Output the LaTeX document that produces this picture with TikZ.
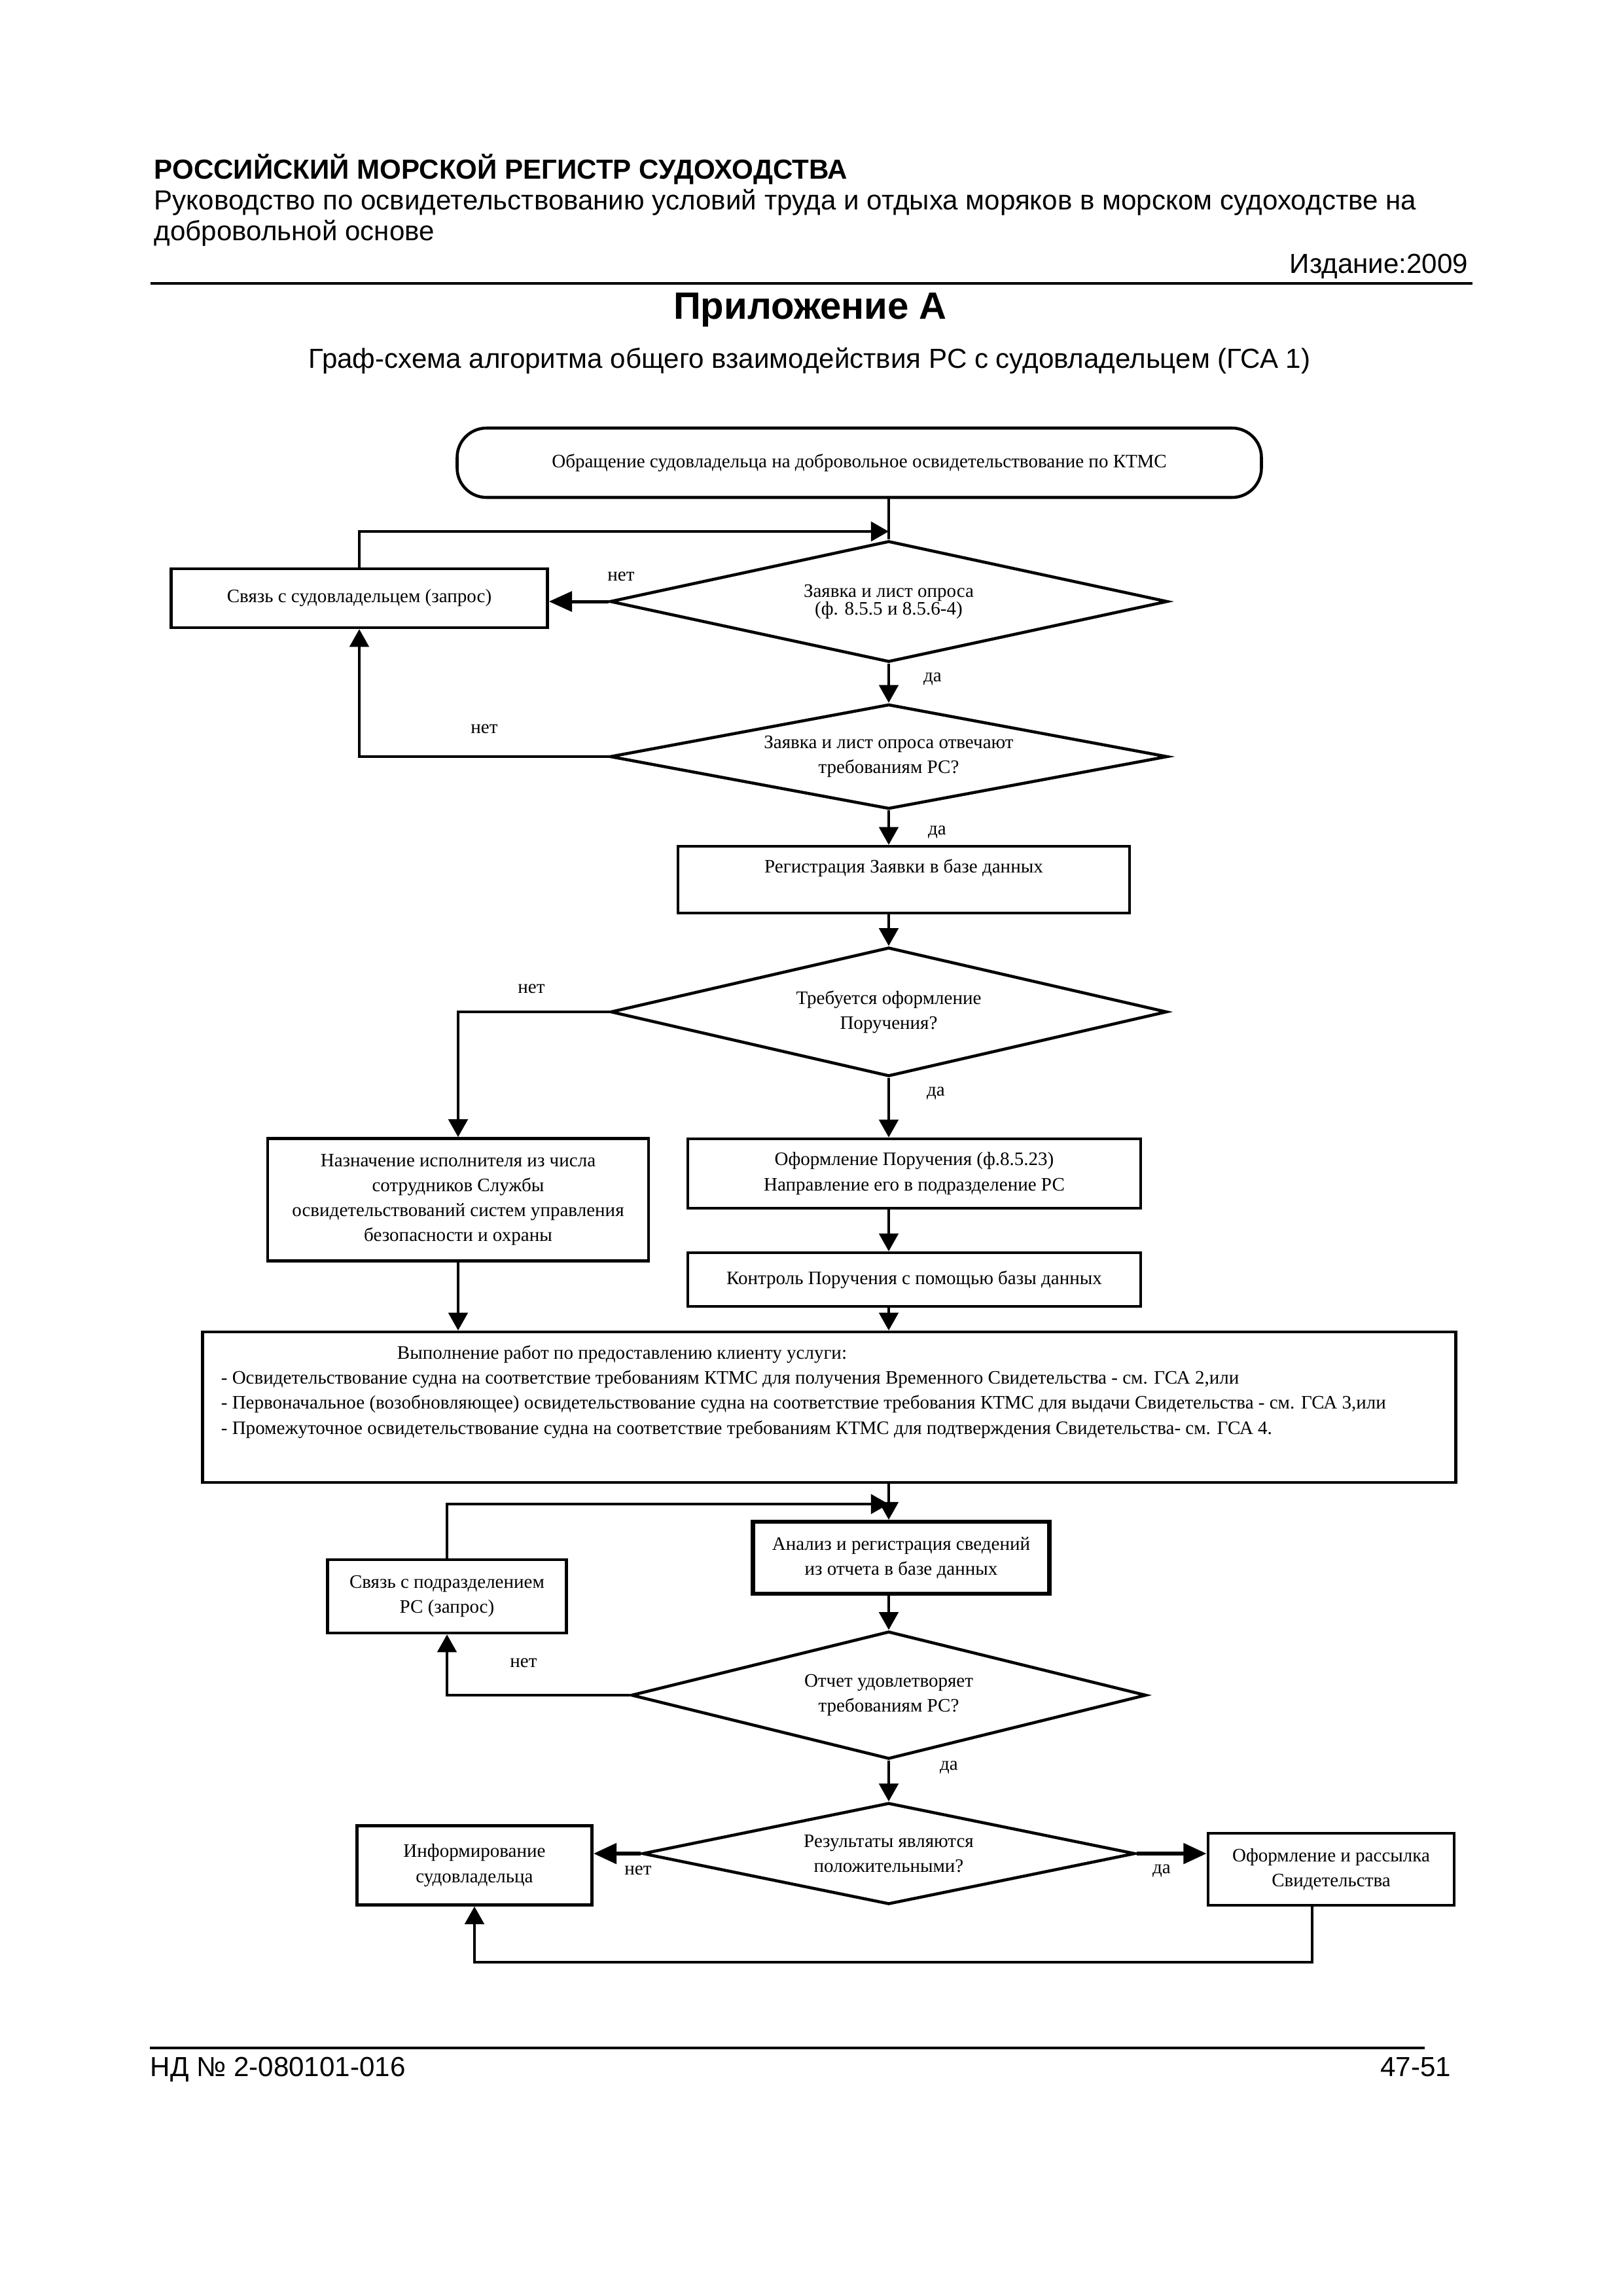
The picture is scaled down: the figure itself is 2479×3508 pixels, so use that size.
\documentclass[tikz,border=0pt]{standalone}
\usepackage{fontspec}
\setmainfont{Liberation Serif}
\newfontfamily\headfont{Liberation Sans}
\usepackage{tikz}
\usetikzlibrary{shapes.geometric,arrows.meta,calc}

\newcommand{\pxl}{0.084711mm}
\newcommand{\boxfont}{\fontsize{7}{9.2}\selectfont}

\begin{document}
\begin{tikzpicture}[x=0.084711mm, y=-0.084711mm,
    >={Triangle[length=2.3mm, width=2.5mm]},
    blok/.style 2 args={draw, rectangle, line width=1.1pt, font=\boxfont, align=center,
      inner sep=0pt, minimum width=#1*\pxl, minimum height=#2*\pxl},
    romb/.style 2 args={draw, diamond, aspect=5, line width=1.1pt, font=\boxfont, align=center,
      inner sep=0pt, minimum width=#1*\pxl, minimum height=#2*\pxl},
    arr/.style={->, line width=0.9pt},
    fatarr/.style={-{Triangle[length=3mm, width=2.6mm]}, line width=1.6pt},
    lbl/.style={font=\boxfont, inner sep=0pt},
    head/.style={font=\headfont\fontsize{10.15}{12}\selectfont, inner sep=0pt}]

  \useasboundingbox (0,0) rectangle (2479,3508);

  % header
  \node[head, font=\headfont\bfseries\fontsize{10.15}{12}\selectfont, anchor=base west] (reg) at (235,273) {РОССИЙСКИЙ МОРСКОЙ РЕГИСТР СУДОХОДСТВА};
  \node[head, anchor=base west] (ruk1) at (235,320) {Руководство по освидетельствованию условий труда и отдыха моряков в морском судоходстве на};
  \node[head, anchor=base west] (ruk2) at (235,367) {добровольной основе};
  \node[head, anchor=base east] (izd) at (2244,417) {Издание:2009};
  \draw[line width=0.8pt] (230,433) -- (2250,433);
  \node[head, font=\headfont\bfseries\fontsize{14}{16}\selectfont, anchor=base] (pril) at (1238,487) {Приложение А};
  \node[head, anchor=base] (gsa) at (1237,562) {Граф-схема алгоритма общего взаимодействия РС с судовладельцем (ГСА 1)};

  % flowchart
  \node[blok={1229}{106}, rounded corners=3.8mm] (start) at (1313,707) {Обращение судовладельца на добровольное освидетельствование по КТМС};
  \node[romb={852}{185}] (d1) at (1358,919) {Заявка и лист опроса\\[-2.7pt](ф. 8.5.5 и 8.5.6-4)};
  \node[blok={575}{90}] (svyaz1) at (549,914) {Связь с судовладельцем (запрос)};
  \node[romb={852}{160}] (d2) at (1358,1156) {Заявка и лист опроса отвечают\\требованиям  РС?};
  \node[blok={690}{102}] (regist) at (1381,1344) {\raisebox{2.5pt}[0pt][0pt]{Регистрация Заявки в базе данных}};
  \node[romb={850}{197}] (d3) at (1358,1546) {Требуется оформление\\Поручения?};
  \node[blok={582}{187}] (naznach) at (700,1833) {Назначение исполнителя из числа\\сотрудников Службы\\освидетельствований систем управления\\безопасности  и охраны};
  \node[blok={692}{106}] (oformpor) at (1397,1793) {Оформление Поручения (ф.8.5.23)\\Направление его в подразделение РС};
  \node[blok={692}{82}] (kontrol) at (1397,1955) {Контроль Поручения с помощью базы данных};
  \node[blok={1915}{230}] (vypoln) at (1267,2150) {};
  \node[lbl, anchor=north west, align=left] (vypoln-t) at (337,2055) {\hspace*{22.8mm}Выполнение работ по предоставлению клиенту услуги:\\
    - Освидетельствование судна на соответствие требованиям КТМС для получения Временного Свидетельства - см. ГСА 2,или\\
    - Первоначальное (возобновляющее) освидетельствование судна на соответствие требования КТМС для выдачи Свидетельства - см. ГСА 3,или\\
    - Промежуточное  освидетельствование судна на соответствие требованиям  КТМС для подтверждения Свидетельства- см. ГСА 4.};
  \node[blok={453}{110}, line width=1.5pt] (analiz) at (1377,2380) {Анализ и регистрация сведений\\из отчета в базе данных};
  \node[blok={365}{112}] (svyaz2) at (683,2439) {Связь с подразделением\\РС (запрос)};
  \node[romb={787}{195}] (d4) at (1358,2590) {Отчет удовлетворяет\\требованиям РС?};
  \node[romb={753}{155}] (d5) at (1358,2832) {Результаты являются\\положительными?};
  \node[blok={359}{121}] (inform) at (725,2850) {Информирование\\судовладельца};
  \node[blok={376}{110}] (oformsv) at (2034,2856) {Оформление и рассылка\\Свидетельства};

  \coordinate (j1) at (1358,812);
  \coordinate (j2) at (1358,2298);

  % connectors
  \draw[line width=0.9pt] (start.south -| d1) -- (d1.north);
  \draw[arr, line width=1.1pt] (svyaz1.north) |- (j1);
  \draw[fatarr, line width=1.2pt] (d1.west) -- (svyaz1.east |- d1.west) node[lbl] at (949,881) {нет};
  \draw[arr] (d1.south) -- (d2.north) node[lbl] at (1425,1037) {да};
  \draw[arr] (d2.west) -| (svyaz1.south) node[lbl] at (740,1114) {нет};
  \draw[arr] (d2.south) -- (d2.south |- regist.north) node[lbl] at (1432,1271) {да};
  \draw[arr] (regist.south -| d3) -- (d3.north);
  \draw[arr] (d3.west) -| (naznach.north) node[lbl] at (812,1511) {нет};
  \draw[arr] (d3.south) -- (d3.south |- oformpor.north) node[lbl] at (1430,1670) {да};
  \draw[arr] (oformpor.south -| d3) -- (kontrol.north -| d3);
  \draw[arr] (kontrol.south -| d3) -- (vypoln.north -| d3);
  \draw[arr] (naznach.south) -- (vypoln.north -| naznach.south);
  \draw[arr] (vypoln.south -| d3) -- (analiz.north -| d3);
  \draw[arr, line width=1.1pt] (svyaz2.north) |- (j2);
  \draw[arr] (analiz.south -| d4) -- (d4.north);
  \draw[arr] (d4.west) -| (svyaz2.south) node[lbl] at (800,2541) {нет};
  \draw[arr] (d4.south) -- (d5.north) node[lbl] at (1450,2700) {да};
  \draw[fatarr] (d5.west) -- (inform.east |- d5.west) node[lbl] at (975,2858) {нет};
  \draw[fatarr] (d5.east) -- (oformsv.west |- d5.east) node[lbl] at (1775,2858) {да};
  \draw[arr] ([shift={(-29,0)}]oformsv.south) -- ++(0,85) -| (inform.south);

  % footer
  \draw[line width=0.8pt] (229,3129) -- (2177,3129);
  \node[head, anchor=base west] (nd) at (229,3172) {НД № 2-080101-016};
  \node[head, anchor=base east] (pg) at (2218,3172) {47-51};
\end{tikzpicture}
\end{document}
